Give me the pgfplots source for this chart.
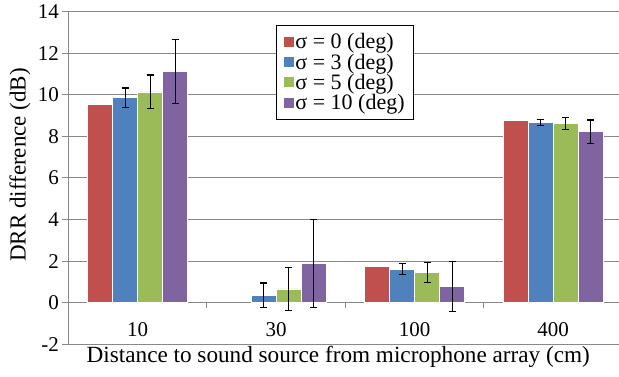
\documentclass[border=0pt]{standalone}
\usepackage{fontspec}
\setmainfont{Liberation Serif}
\usepackage{pgfplots}
\pgfplotsset{compat=1.18}
\definecolor{cred}{HTML}{C0504D}
\definecolor{cblue}{HTML}{4F81BD}
\definecolor{cgreen}{HTML}{9BBB59}
\definecolor{cpurple}{HTML}{8064A2}
\definecolor{gridgray}{RGB}{136,136,136}
\begin{document}
\begin{tikzpicture}
\begin{axis}[
  scale only axis, width=550.5pt, height=332.8pt,
  xmin=-0.5, xmax=3.475, ymin=-2, ymax=14,
  axis y line=left, axis x line=middle,
  axis line style={-, draw=gridgray, line width=1pt},
  ytick={-2,0,2,4,6,8,10,12,14},
  yticklabels={\textrm{-2},\textrm{0},\textrm{2},\textrm{4},\textrm{6},\textrm{8},\textrm{10},\textrm{12},\textrm{14}},
  ymajorgrids, grid style={draw=gridgray, line width=1pt},
  ytick style={draw=gridgray, line width=1pt},
  ytick align=outside, major tick length=6pt,
  xtick={0,1,2,3}, xticklabels={\textrm{10},\textrm{30},\textrm{100},\textrm{400}},
  xtick style={draw=none},
  extra x ticks={0.5,1.5,2.5}, extra x tick labels={},
  extra x tick style={xtick style={draw=gridgray, line width=1pt}, xtick align=outside, major tick length=5pt, xmajorgrids=false},
  xticklabel style={anchor=center, yshift=-21pt},
  tick label style={font=\fontsize{21}{21}\selectfont},
  yticklabel style={anchor=east},
  every axis x label/.style={at={(axis description cs:0.49,-0.038)}, anchor=center, font=\fontsize{23.2}{23.2}\selectfont},
  every axis y label/.style={at={(axis description cs:-0.0881,0.539)}, anchor=center, rotate=90, font=\fontsize{23}{23}\selectfont},
  xlabel={Distance to sound source from microphone array (cm)},
  ylabel={DRR difference (dB)},
  ybar=0pt, bar width=25pt,
  every axis plot/.append style={draw=white, line width=0.5pt},
  error bars/error bar style={black, line width=1.3pt},
  error bars/error mark options={black, line width=1.3pt, mark size=3.5pt, rotate=90},
  legend style={at={(axis description cs:0.377,0.959)}, anchor=north west, draw=black, line width=0.8pt, fill=white,
    font=\fontsize{22}{22}\selectfont, row sep=1.5pt, inner xsep=8pt, inner ysep=7pt, nodes={inner sep=1pt},
    /tikz/every even column/.append style={column sep=7pt}},
  legend cell align=left,
  legend image code/.code={\path[#1, draw=none] (0pt,-5pt) rectangle (10pt,5pt);},
]
\addplot[fill=cred, error bars/.cd, y dir=both, y explicit] coordinates {(0,9.54) (2,1.76) (3,8.77)};
\addplot[fill=cblue, error bars/.cd, y dir=both, y explicit] coordinates {(0,9.86) +- (0,0.46) (1,0.36) +- (0,0.59) (2,1.62) +- (0,0.25) (3,8.67) +- (0,0.15)};
\addplot[fill=cgreen, error bars/.cd, y dir=both, y explicit] coordinates {(0,10.13) +- (0,0.81) (1,0.66) +- (0,1.02) (2,1.46) +- (0,0.48) (3,8.61) +- (0,0.28)};
\addplot[fill=cpurple, error bars/.cd, y dir=both, y explicit] coordinates {(0,11.12) +- (0,1.54) (1,1.89) +- (0,2.12) (2,0.77) +- (0,1.20) (3,8.22) +- (0,0.56)};
\legend{σ = 0 (deg), σ = 3 (deg), σ = 5 (deg), σ = 10 (deg)}
\end{axis}
\pgfresetboundingbox
\path (-68.5pt,-32.7pt) rectangle (550.5pt,344.3pt);
\end{tikzpicture}
\end{document}
